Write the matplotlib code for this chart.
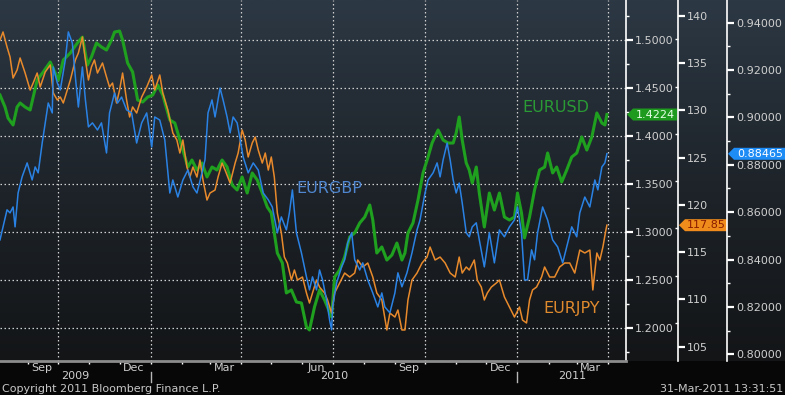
import numpy as np
import pandas as pd
import matplotlib
import matplotlib.pyplot as plt
import matplotlib.dates as mdates
from matplotlib import ticker, transforms
from matplotlib.colors import LinearSegmentedColormap
from matplotlib.patches import Polygon
matplotlib.use('Agg')

# Data: days since the first point
start_date = pd.Timestamp('2009-08-04')

usd_days = [0, 5, 8, 13, 17, 20, 25, 30, 33, 37, 43, 50, 55, 58, 63, 70, 77, 82, 87, 91,
            96, 101, 106, 111, 114, 119, 122, 127, 132, 137, 142, 147, 152, 157, 162, 169, 174, 179, 184, 187,
            191, 196, 201, 206, 211, 216, 221, 226, 231, 236, 241, 246, 251, 256, 261, 266, 270, 273, 276, 281,
            285, 290, 295, 300, 305, 308, 313, 318, 323, 330, 333, 338, 343, 348, 353, 358, 363, 368, 371, 375,
            380, 385, 390, 395, 400, 403, 406, 411, 416, 421, 426, 430, 436, 441, 446, 451, 454, 457, 460, 464,
            467, 470, 474, 477, 482, 487, 492, 497, 502, 507, 512, 515, 519, 522, 527, 532, 537, 542, 545, 550,
            554, 559, 564, 569, 574, 579, 584, 589, 594, 599, 602, 604]
usd_vals = [1.4427, 1.4302, 1.4187, 1.4115, 1.4302, 1.4344, 1.4302, 1.4271, 1.4406, 1.4583,
            1.4667, 1.4771, 1.4656, 1.4583, 1.4792, 1.4865, 1.4969, 1.5031, 1.4740, 1.4823,
            1.4969, 1.4927, 1.4896, 1.5000, 1.5083, 1.5094, 1.5000, 1.4760, 1.4667, 1.4375,
            1.4354, 1.4406, 1.4427, 1.4531, 1.4427, 1.4167, 1.4135, 1.3958, 1.3781, 1.3677,
            1.3750, 1.3646, 1.3719, 1.3573, 1.3677, 1.3646, 1.3750, 1.3677, 1.3490, 1.3438,
            1.3573, 1.3406, 1.3615, 1.3542, 1.3406, 1.3260, 1.3198, 1.2990, 1.2781, 1.2677,
            1.2365, 1.2396, 1.2271, 1.2260, 1.2010, 1.1979, 1.2219, 1.2396, 1.2292, 1.2115,
            1.2531, 1.2604, 1.2740, 1.2948, 1.2990, 1.3094, 1.3156, 1.3281, 1.3125, 1.2781,
            1.2844, 1.2708, 1.2760, 1.2885, 1.2708, 1.2781, 1.2990, 1.3094, 1.3333, 1.3615,
            1.3781, 1.3927, 1.4063, 1.3958, 1.3927, 1.3927, 1.4031, 1.4198, 1.3958, 1.3719,
            1.3646, 1.3510, 1.3677, 1.3406, 1.3052, 1.3406, 1.3229, 1.3406, 1.3156, 1.3125,
            1.3156, 1.3406, 1.3198, 1.2938, 1.3156, 1.3438, 1.3646, 1.3677, 1.3823, 1.3615,
            1.3677, 1.3521, 1.3646, 1.3781, 1.3823, 1.3990, 1.3854, 1.3990, 1.4240, 1.4135,
            1.4115, 1.4224]

gbp_days = [0, 3, 7, 10, 13, 15, 18, 22, 27, 32, 35, 38, 42, 45, 48, 52, 53, 57, 60, 65,
            68, 72, 75, 78, 82, 85, 88, 92, 97, 101, 106, 109, 114, 117, 121, 126, 131, 136, 141, 146,
            151, 154, 159, 164, 169, 172, 177, 182, 187, 192, 196, 201, 204, 207, 211, 214, 219, 222, 226, 229,
            232, 236, 239, 242, 247, 252, 257, 262, 267, 271, 276, 280, 285, 288, 291, 295, 300, 305, 308, 311,
            315, 318, 321, 325, 328, 330, 331, 335, 340, 343, 346, 350, 353, 358, 361, 366, 371, 376, 380, 383,
            388, 393, 396, 400, 405, 410, 415, 418, 423, 426, 431, 435, 438, 441, 445, 448, 451, 454, 457, 460,
            464, 467, 470, 474, 477, 482, 487, 492, 497, 502, 507, 512, 515, 519, 522, 525, 529, 532, 535, 540,
            545, 550, 555, 560, 564, 569, 574, 577, 582, 587, 592, 595, 599, 602, 604]
gbp_vals = [0.8483, 0.8538, 0.8610, 0.8597, 0.8622, 0.8538, 0.8681, 0.8749, 0.8808, 0.8736,
            0.8791, 0.8766, 0.8892, 0.8977, 0.9061, 0.9019, 0.9213, 0.9146, 0.9116, 0.9243,
            0.9361, 0.9314, 0.9171, 0.9044, 0.9213, 0.9074, 0.8960, 0.8977, 0.8947, 0.8977,
            0.8850, 0.9019, 0.9103, 0.9061, 0.9086, 0.9032, 0.9019, 0.8892, 0.8977, 0.9019,
            0.8875, 0.9002, 0.8989, 0.8905, 0.8681, 0.8736, 0.8664, 0.8736, 0.8778, 0.8707,
            0.8681, 0.8766, 0.8821, 0.9019, 0.9074, 0.9002, 0.9124, 0.9074, 0.9002, 0.8935,
            0.9002, 0.8977, 0.8905, 0.8833, 0.8766, 0.8808, 0.8778, 0.8681, 0.8652, 0.8622,
            0.8513, 0.8580, 0.8525, 0.8597, 0.8694, 0.8513, 0.8428, 0.8327, 0.8272, 0.8327,
            0.8272, 0.8356, 0.8314, 0.8230, 0.8145, 0.8103, 0.8200, 0.8302, 0.8369, 0.8399,
            0.8470, 0.8513, 0.8399, 0.8356, 0.8386, 0.8314, 0.8259, 0.8200, 0.8259, 0.8200,
            0.8175, 0.8259, 0.8344, 0.8285, 0.8344, 0.8428, 0.8525, 0.8567, 0.8681, 0.8736,
            0.8766, 0.8808, 0.8749, 0.8821, 0.8892, 0.8821, 0.8736, 0.8681, 0.8723, 0.8639,
            0.8513, 0.8496, 0.8538, 0.8555, 0.8483, 0.8369, 0.8513, 0.8386, 0.8525, 0.8496,
            0.8538, 0.8567, 0.8622, 0.8513, 0.8314, 0.8314, 0.8441, 0.8399, 0.8513, 0.8622,
            0.8567, 0.8483, 0.8453, 0.8386, 0.8453, 0.8538, 0.8496, 0.8597, 0.8664, 0.8622,
            0.8736, 0.8694, 0.8791, 0.8808, 0.8847]

jpy_days = [0, 3, 7, 10, 13, 17, 20, 25, 30, 33, 37, 40, 45, 50, 53, 57, 60, 63, 67, 70,
            75, 78, 82, 85, 88, 91, 94, 97, 102, 106, 109, 112, 116, 119, 122, 126, 129, 132, 136, 141,
            146, 151, 154, 159, 162, 167, 172, 176, 179, 182, 186, 189, 192, 196, 199, 202, 206, 209, 214, 217,
            221, 224, 229, 234, 237, 241, 244, 247, 251, 254, 257, 261, 264, 267, 270, 273, 276, 280, 283, 286,
            290, 293, 296, 301, 305, 308, 311, 315, 318, 323, 326, 330, 333, 338, 343, 348, 353, 356, 361, 366,
            371, 375, 380, 385, 388, 393, 396, 400, 403, 406, 410, 415, 420, 425, 428, 433, 438, 443, 448, 453,
            457, 460, 464, 467, 472, 475, 479, 482, 485, 489, 494, 497, 502, 507, 512, 517, 520, 524, 527, 530,
            534, 539, 542, 547, 552, 557, 562, 567, 572, 577, 582, 587, 590, 594, 597, 600, 603, 604]
jpy_vals = [137.43, 138.28, 136.69, 135.63, 133.41, 134.26, 135.53, 133.94, 132.14, 132.88,
            133.94, 132.46, 134.05, 134.79, 131.83, 131.09, 131.40, 130.77, 132.14, 133.20,
            135.32, 136.06, 137.75, 135.32, 133.20, 134.58, 135.32, 133.94, 135.00, 133.52,
            132.46, 132.88, 130.77, 132.14, 133.94, 131.09, 129.29, 130.35, 129.71, 131.40,
            132.46, 133.73, 132.14, 133.73, 131.83, 130.03, 127.60, 126.86, 125.48, 126.86,
            124.00, 122.94, 124.00, 122.94, 124.74, 122.63, 120.51, 121.25, 121.57, 122.94,
            124.42, 123.68, 122.31, 124.42, 125.48, 127.91, 126.86, 125.06, 126.54, 127.17,
            125.80, 124.42, 125.48, 123.68, 125.06, 122.94, 119.14, 117.02, 114.48, 113.85,
            112.05, 113.11, 112.05, 112.37, 110.68, 109.62, 110.68, 112.05, 111.31, 110.68,
            109.94, 108.56, 110.68, 111.74, 112.79, 112.37, 112.79, 114.17, 113.43, 113.85,
            112.37, 110.68, 109.94, 106.77, 108.56, 108.14, 108.88, 106.77, 106.77, 109.94,
            112.05, 112.79, 113.85, 114.48, 115.54, 114.17, 114.48, 113.85, 112.79, 112.37,
            114.48, 112.79, 113.43, 113.11, 114.17, 112.05, 111.31, 109.94, 110.68, 111.31,
            111.74, 112.05, 110.26, 109.20, 108.14, 109.20, 107.82, 107.51, 109.94, 111.00,
            111.31, 112.37, 113.43, 112.37, 112.37, 113.43, 113.85, 113.85, 112.79, 115.22,
            114.91, 115.22, 111.00, 114.91, 114.17, 115.54, 117.34, 117.85]

last_usd = '1.4224'
last_jpy = '117.85'
last_gbp = '0.88465'
year_labels = ['2009', '2010', '2011']

GREEN = '#1fa11f'
BLUE = '#2a82e4'
ORANGE = '#e88a2c'
TICK_TXT = '#cfcfcf'
GRID_STYLE = dict(color='#d0d0d0', linestyle=(0, (1.2, 2.0)), linewidth=0.9)


def to_num(days):
    return mdates.date2num((start_date + pd.to_timedelta(days, unit='D')).to_numpy())


x_lo = mdates.date2num(pd.Timestamp('2009-08-04'))
x_hi = mdates.date2num(pd.Timestamp('2011-04-19'))

fig = plt.figure(figsize=(7.85, 3.95), dpi=100)
fig.patch.set_facecolor('#070707')

# dark gradient backdrop
bg = fig.add_axes([0, 0, 1, 1])
bg.set_axis_off()
grad = np.linspace(0, 1, 256).reshape(-1, 1)
cmap = LinearSegmentedColormap.from_list('bbg', ['#131517', '#1e242a', '#2c3844'])
bg.imshow(grad, cmap=cmap, aspect='auto', extent=[0, 1, 34 / 395, 1], origin='lower')
bg.set_xlim(0, 1)
bg.set_ylim(0, 1)

ax = fig.add_axes([0, 34 / 395, 626 / 785, 361 / 395])
ax.set_facecolor('none')
axj = ax.twinx()
axg = ax.twinx()

ax.plot(to_num(usd_days), usd_vals, color=GREEN, lw=2.2, solid_joinstyle='round')
axj.plot(to_num(jpy_days), jpy_vals, color=ORANGE, lw=1.1)
axg.plot(to_num(gbp_days), gbp_vals, color=BLUE, lw=1.1)

ax.set_xlim(x_lo, x_hi)
ax.set_ylim(1.1656, 1.5417)
axj.set_ylim(103.49, 141.66)
axg.set_ylim(0.79717, 0.94958)

# spines
for a in (ax, axj, axg):
    for s in ('top', 'left'):
        a.spines[s].set_visible(False)
    a.spines['right'].set_color('white')
    a.spines['right'].set_linewidth(1.2)
for a in (axj, axg):
    a.spines['bottom'].set_visible(False)
ax.spines['bottom'].set_color('#8c8c8c')
ax.spines['bottom'].set_linewidth(2)
axj.spines['right'].set_position(('axes', 678 / 626))
axg.spines['right'].set_position(('axes', 727 / 626))

# right hand value axes
ax.yaxis.tick_right()
ax.yaxis.set_major_locator(ticker.MultipleLocator(0.05))
ax.yaxis.set_minor_locator(ticker.MultipleLocator(0.025))
ax.yaxis.set_major_formatter(ticker.FormatStrFormatter('%.4f'))
axj.yaxis.set_major_locator(ticker.MultipleLocator(5))
axj.yaxis.set_minor_locator(ticker.MultipleLocator(2.5))
axj.yaxis.set_major_formatter(ticker.FormatStrFormatter('%d'))
axg.yaxis.set_major_locator(ticker.MultipleLocator(0.02))
axg.yaxis.set_minor_locator(ticker.MultipleLocator(0.01))
axg.yaxis.set_major_formatter(ticker.FormatStrFormatter('%.5f'))

for a in (ax, axj, axg):
    a.tick_params(axis='y', which='major', direction='out', length=5, width=1.6,
                  color='white', labelcolor=TICK_TXT, labelsize=8, pad=1.5)
    a.tick_params(axis='y', which='minor', direction='out', length=2.2, width=1, color='white')
axj.tick_params(axis='y', which='minor', direction='in')

# time axis
ax.xaxis.set_minor_locator(mdates.MonthLocator())
ax.xaxis.set_major_locator(mdates.MonthLocator(bymonth=[3, 6, 9, 12], bymonthday=15))
ax.xaxis.set_major_formatter(mdates.DateFormatter('%b'))
ax.tick_params(axis='x', which='major', length=0, labelsize=8, labelcolor=TICK_TXT, pad=1.5)
ax.tick_params(axis='x', which='minor', direction='out', length=2.5, width=1, color='white')

# dotted grid
ax.set_axisbelow(True)
ax.grid(axis='y', which='major', **GRID_STYLE)
for d in pd.date_range('2009-10-01', '2011-04-01', freq='QS'):
    ax.axvline(mdates.date2num(d), **GRID_STYLE, zorder=0.5)

# year labels under the months
xblend = transforms.blended_transform_factory(ax.transData, ax.transAxes)
for yr in year_labels:
    lo = max(x_lo, mdates.date2num(pd.Timestamp(f'{yr}-01-01')))
    hi = min(x_hi, mdates.date2num(pd.Timestamp(f'{int(yr) + 1}-01-01')))
    ax.text((lo + hi) / 2, -0.0416, yr, transform=xblend, ha='center', va='center',
            fontsize=8, color=TICK_TXT)
    if lo > x_lo:
        ax.plot([lo, lo], [-0.030, -0.058], transform=xblend, clip_on=False,
                color='#b8b8b8', lw=1)

# series names
ax.text(mdates.date2num(pd.Timestamp('2011-02-08')), 1.4292, 'EURUSD', color='#2a9a35',
        fontsize=11.5, ha='center', va='center')
axg.text(mdates.date2num(pd.Timestamp('2010-06-28')), 0.8702, 'EURGBP', color='#4f86cf',
         fontsize=11.5, ha='center', va='center')
axj.text(mdates.date2num(pd.Timestamp('2011-02-24')), 108.99, 'EURJPY', color='#e08a2e',
         fontsize=11.5, ha='center', va='center')


# last price tags sitting on each value axis
def price_tag(axis, spine_frac, value, label, face, text_color, width):
    base = transforms.blended_transform_factory(ax.transAxes, axis.transData)
    anchor = transforms.IdentityTransform() + transforms.ScaledTranslation(spine_frac, float(value), base)
    shape = [(1, 0), (7, 6), (width, 6), (width, -6), (7, -6)]
    axis.add_patch(Polygon(shape, closed=True, transform=anchor, facecolor=face,
                           edgecolor='none', clip_on=False, zorder=5))
    tx = transforms.offset_copy(base, fig=fig, x=(width + 7) / 2, units='dots')
    axis.text(spine_frac, float(value), label, transform=tx, ha='center', va='center',
              fontsize=8, color=text_color, zorder=6, clip_on=False)


price_tag(ax, 1.0, last_usd, last_usd, '#1e9b1e', '#e6ffe6', 51)
price_tag(axj, 678 / 626, last_jpy, last_jpy, '#f08c1c', '#8a1c00', 49)
price_tag(axg, 727 / 626, last_gbp, last_gbp, '#1e8cf5', 'white', 60)

fig.text(0.002, 0.016, 'Copyright 2011 Bloomberg Finance L.P.', fontsize=8,
         color='#c8c8c8', ha='left', va='center')
fig.text(0.998, 0.016, '31-Mar-2011 13:31:51', fontsize=8, color='#c8c8c8',
         ha='right', va='center')

fig.savefig('out.png', dpi=100, facecolor=fig.get_facecolor())
